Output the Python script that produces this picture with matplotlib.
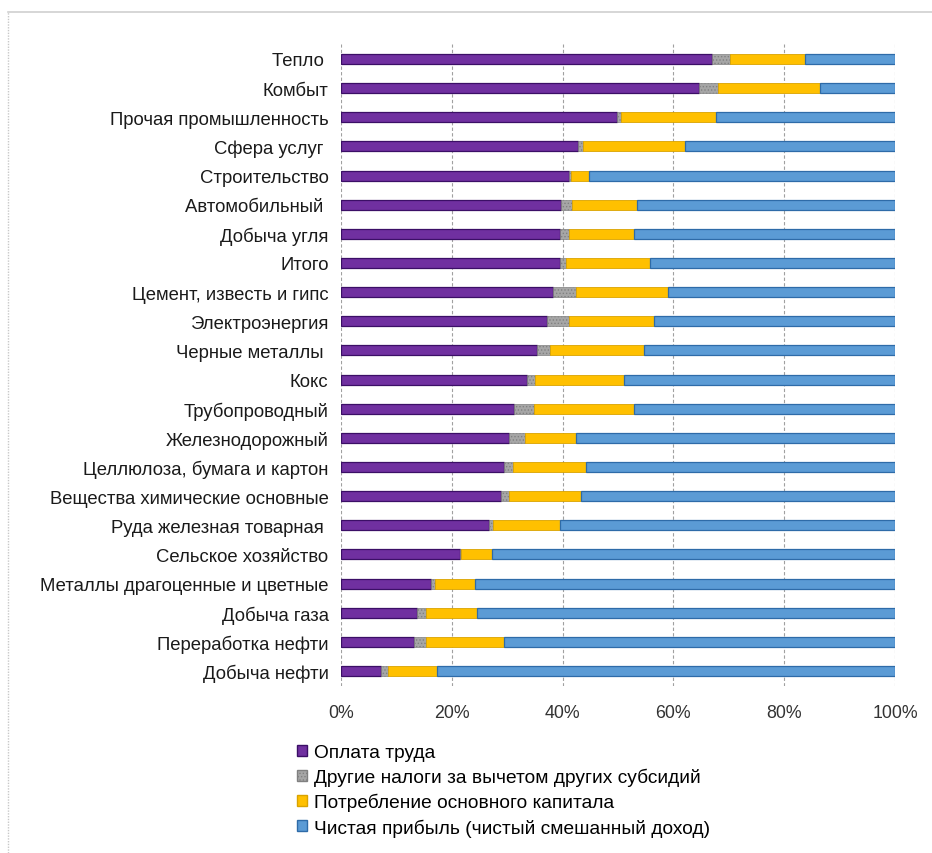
import numpy as np
import matplotlib.pyplot as plt
from matplotlib.lines import Line2D
from matplotlib.patches import Patch

plt.rcParams['font.family'] = ['Liberation Sans', 'DejaVu Sans']
plt.rcParams['hatch.linewidth'] = 0.6

# отрасли (сверху вниз) и доли компонент, %
otrasli = ['Тепло ', 'Комбыт', 'Прочая промышленность', 'Сфера услуг ',
           'Строительство', 'Автомобильный ', 'Добыча угля', 'Итого',
           'Цемент, известь и гипс', 'Электроэнергия', 'Черные металлы ',
           'Кокс', 'Трубопроводный', 'Железнодорожный',
           'Целлюлоза, бумага и картон', 'Вещества химические основные',
           'Руда железная товарная ', 'Сельское хозяйство',
           'Металлы драгоценные и цветные', 'Добыча газа',
           'Переработка нефти', 'Добыча нефти']

oplata_truda = [67.0, 64.6, 49.9, 42.7, 41.1, 39.8, 39.5, 39.5, 38.2, 37.2, 35.4,
                33.6, 31.3, 30.4, 29.5, 28.8, 26.7, 21.4, 16.3, 13.8, 13.2, 7.2]
nalogi = [3.2, 3.5, 0.6, 0.9, 0.5, 1.9, 1.6, 1.2, 4.2, 3.9, 2.3,
          1.5, 3.5, 2.9, 1.5, 1.6, 0.8, 0.2, 0.7, 1.6, 2.2, 1.3]
potreblenie = [13.6, 18.4, 17.2, 18.5, 3.2, 11.7, 11.8, 15.1, 16.6, 15.4, 17.0,
               16.0, 18.1, 9.1, 13.2, 12.9, 12.0, 5.7, 7.2, 9.1, 14.1, 8.8]
pribyl = [100 - a - b - c for a, b, c in zip(oplata_truda, nalogi, potreblenie)]

serii = ['Оплата труда', 'Другие налоги за вычетом других субсидий',
         'Потребление основного капитала',
         'Чистая прибыль (чистый смешанный доход)']

fig = plt.figure(figsize=(9.32, 8.54), dpi=100)
ax = fig.add_axes([341 / 932, 1 - 686.6 / 854, 554 / 932, 641.2 / 854])

y = np.arange(len(otrasli))
h = 0.34
left = np.zeros(len(otrasli))

ax.barh(y, oplata_truda, h, left=left, color='#7030A0', edgecolor='#3B0F66', linewidth=0.9)
left += oplata_truda
ax.barh(y, nalogi, h, left=left, color='#A6A6A6', edgecolor='#808080', linewidth=0.5, hatch='.....')
left += nalogi
ax.barh(y, potreblenie, h, left=left, color='#FFC000', edgecolor='#D9A300', linewidth=0.6)
left += potreblenie
ax.barh(y, pribyl, h, left=left, color='#5B9BD5', edgecolor='#2E6BA8', linewidth=0.9)

ax.set_xlim(0, 100)
ax.set_ylim(len(otrasli) - 0.5, -0.5)
ax.set_xticks(np.arange(0, 101, 20))
ax.set_xticklabels([f'{v}%' for v in range(0, 101, 20)], fontsize=12.8, color='#333333')
ax.set_yticks(y)
ax.set_yticklabels(otrasli, fontsize=13.3, color='#1a1a1a')
ax.tick_params(length=0, pad=9)
ax.tick_params(axis='x', pad=13)
ax.xaxis.grid(True, color='#A0A0A0', linestyle=(0, (3, 2)), linewidth=0.8)
ax.set_axisbelow(True)
for s in ax.spines.values():
    s.set_visible(False)

handles = [Patch(facecolor='#7030A0', edgecolor='#3B0F66'),
           Patch(facecolor='#A6A6A6', edgecolor='#808080', hatch='.....'),
           Patch(facecolor='#FFC000', edgecolor='#D9A300'),
           Patch(facecolor='#5B9BD5', edgecolor='#2E6BA8')]
fig.legend(handles, serii, loc='upper left', bbox_to_anchor=(297 / 932, 1 - 745 / 854),
           frameon=False, fontsize=13.8, handlelength=0.5, handleheight=0.5,
           handletextpad=0.4, labelspacing=0.36, borderpad=0, borderaxespad=0)

# рамка слева и сверху
fig.add_artist(Line2D([8 / 932, 1], [1 - 13 / 854] * 2, color='#D0D0D0', lw=1.2))
fig.add_artist(Line2D([8 / 932] * 2, [0, 1 - 13 / 854], color='#C8C8C8', lw=1,
                      linestyle=(0, (1, 1))))

fig.savefig('out.png', facecolor='white')
